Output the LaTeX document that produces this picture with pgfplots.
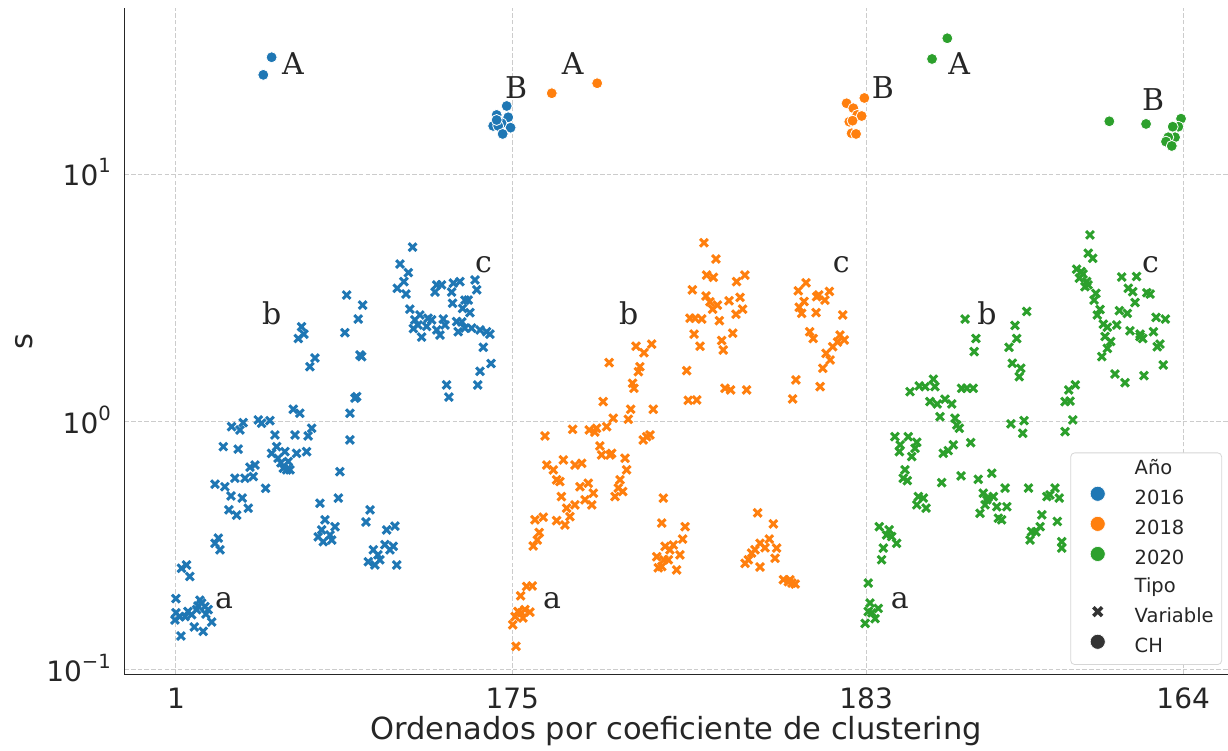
\documentclass[border=0pt]{standalone}
\usepackage{fontspec}
\setmainfont{DejaVu Sans}
\newfontfamily\annfont{DejaVu Serif}
\usepackage{pgfplots}
\pgfplotsset{compat=1.18}
\definecolor{c16}{HTML}{1F77B4}
\definecolor{c18}{HTML}{FF7F0E}
\definecolor{c20}{HTML}{2CA02C}
\definecolor{txt}{HTML}{262626}
\definecolor{gridc}{HTML}{CCCCCC}
\definecolor{dk}{HTML}{333333}
\newcommand{\sups}[1]{10\raisebox{13pt}{\fontsize{19.6}{20}\selectfont #1}}
\begin{document}
\begin{tikzpicture}
\begin{axis}[
  at={(124.3pt,76.7pt)}, anchor=south west,
  scale only axis, width=1103.7pt, height=666.3pt,
  ymode=log, xmin=-25.7, xmax=545.2, ymin=0.096, ymax=46.7,
  axis x line*=bottom, axis y line*=left,
  axis line style={draw=txt, line width=1.2pt, -},
  xtick={1,175,358,522}, xticklabels={1,175,183,164},
  ytick={0.1,1,10}, yticklabels={{\sups{−1}},{\sups{0}},{\sups{1}}},
  yminorticks=false, xminorticks=false,
  major tick length=0pt,
  tick label style={font=\fontsize{28}{32}\selectfont, text=txt},
  xticklabel style={anchor=north, inner sep=0pt, yshift=-13.7pt},
  yticklabel style={anchor=base east, inner sep=0pt, xshift=-13.3pt, yshift=-12pt},
  grid=major, major grid style={draw=gridc, line width=0.9pt, dash pattern=on 4.5pt off 2.2pt},
  xlabel={Ordenados por coeficiente de clustering}, ylabel={s},
  every axis x label/.style={at={(axis description cs:0.5,-0.0986)}, anchor=base, font=\fontsize{30.5}{36}\selectfont, text=txt},
  every axis y label/.style={at={(axis description cs:-0.0909,0.5)}, anchor=center, rotate=90, font=\fontsize{30.5}{36}\selectfont, text=txt},
  legend image code/.code={\path[use as bounding box, draw=none, fill=none] (-19pt,-4pt) rectangle (8pt,12pt); \draw[#1] plot coordinates {(0pt,6pt)};},
  legend cell align=left,
  legend style={at={(axis description cs:0.9946,0.014)}, anchor=south east,
    draw=black!16, line width=0.8pt, rounded corners=4pt, fill=white,
    font=\fontsize{19.5}{22}\selectfont, text=txt, inner xsep=8pt, inner ysep=7.3pt,
    row sep=8.6pt, nodes={inner sep=0pt, text height=14pt, text depth=5pt},
    /tikz/every odd column/.append style={column sep=29pt}},
]
% ---------- 2016 Variable ----------
\addplot[only marks, mark=x, mark size=5.5pt, c16, mark options={line width=3pt}, forget plot] table {
x y
1 0.194
1 0.170
3.1 0.164
5.7 0.164
9.1 0.167
11.7 0.175
14.3 0.186
16 0.180
17.7 0.175
19.5 0.156
15.1 0.143
10.5 0.149
3.6 0.137
0.5 0.159
13.4 0.191
7.2 0.172
12.4 0.181
16.5 0.168
6.5 0.265
3.9 0.257
8.2 0.238
21.2 0.324
23.8 0.305
22.9 0.340
21.2 0.561
26.3 0.548
29.5 0.503
31.5 0.593
35.3 0.493
28.4 0.442
32.4 0.421
38.4 0.449
25.5 0.795
33.2 0.777
36.7 0.593
39.3 0.657
41.9 0.670
41 0.602
47.4 0.540
29.8 0.957
34.1 0.928
35.8 0.994
43.6 1.019
45.3 0.988
49.6 1.012
52.2 0.886
53.1 0.795
50.5 0.747
53.8 0.714
57.4 0.759
59.1 0.692
56.5 0.651
58.3 0.641
63.4 0.747
62.6 0.886
68.6 0.759
69.4 0.878
71.2 0.943
61.7 1.125
65.1 1.084
55.3 0.684
60 0.641
85.8 0.630
85 0.493
75.5 0.470
78.1 0.403
76.4 0.367
80.7 0.350
83.3 0.378
81.6 0.334
74.6 0.344
77.2 0.329
91 0.846
101.4 0.442
99.3 0.395
110 0.367
114.3 0.380
109.1 0.320
113.4 0.315
103.1 0.305
100.5 0.273
106.5 0.278
115.2 0.265
105.5 0.291
111.7 0.305
103.9 0.265
91 1.084
93.6 1.247
94.5 1.265
97.1 1.834
96.2 1.862
88.4 2.29
95.3 2.60
97.6 2.96
89.3 3.25
66 2.42
67.2 2.26
64.3 2.17
72.9 1.81
70.3 1.67
123.4 5.07
116.9 4.33
121.2 4.00
118.9 3.68
115.5 3.46
120 3.28
122 2.85
127.2 2.70
124.6 2.58
123.8 2.38
128.1 2.20
130.7 2.43
133.3 2.58
135.9 2.35
137.6 2.24
140.2 2.46
139.3 2.60
146.2 2.54
147 2.31
150.5 2.39
154 2.39
158.3 2.35
163.4 2.26
161.7 2.31
135.9 3.57
138.4 3.57
135 3.34
143.6 3.34
144.5 3.63
147.9 3.68
144.1 3.01
149.3 2.87
150.5 3.10
152.2 3.10
153.1 2.76
155.7 3.74
156.6 3.41
160 2.00
158.3 1.60
157.1 1.41
164 1.72
141 1.41
142.2 1.26
126.2 2.46
131.4 2.62
148.9 2.53
};
% ---------- 2018 Variable ----------
\addplot[only marks, mark=x, mark size=5.5pt, c18, mark options={line width=3pt}, forget plot] table {
x y
176.9 0.1245
175.2 0.152
176.4 0.164
179.8 0.170
184.1 0.171
181.5 0.175
179.3 0.199
182.4 0.217
185.3 0.218
177.9 0.172
180.5 0.162
185.8 0.316
187.9 0.334
188.9 0.358
186.7 0.403
191 0.413
191.9 0.878
192.8 0.670
196.2 0.641
197.9 0.584
199.6 0.575
201.4 0.703
207.4 0.670
210.9 0.681
200.4 0.500
197.9 0.400
202.2 0.384
204.8 0.415
203.1 0.449
207.4 0.463
210 0.548
214.3 0.566
212.6 0.485
216.9 0.516
216.1 0.463
206.2 0.934
214.8 0.928
218.6 0.943
223.8 0.957
227.2 1.035
220.3 0.800
221.2 0.736
226.4 0.747
228.1 0.500
229.8 0.541
230.7 0.584
232.1 0.524
233.3 0.714
234.1 0.641
222 1.208
225.1 1.735
236.2 1.125
235 1.025
247.9 1.125
244.5 0.872
242.7 0.846
246.2 0.886
237.2 1.432
237.9 1.367
241 1.670
240.2 1.595
239 2.02
243.1 1.902
247.1 2.06
217.7 0.91
225.5 0.736
253.1 0.493
252.3 0.391
264.4 0.378
263.1 0.337
258.3 0.319
254 0.315
249.7 0.286
250.5 0.258
255.7 0.278
260 0.253
261.7 0.291
252.3 0.261
256.5 0.305
253.4 0.278
265.2 1.610
266 1.222
270.4 1.227
269 2.26
274.1 5.28
280.3 4.54
275.5 3.91
279 3.83
268.1 3.41
275.2 3.22
277.2 3.05
281.1 2.96
278.6 2.85
266.9 2.62
269.5 2.62
273 2.60
282.1 2.56
287.1 3.08
292.8 3.18
291 3.68
295.3 3.91
294.1 2.85
290.7 2.72
289 2.28
283.3 2.13
284.1 1.95
272.1 2.02
285 1.367
287.9 1.346
296.2 1.346
326.9 3.64
322.9 3.38
325.9 3.06
324.7 2.74
323.4 2.90
332.1 2.76
332.4 3.20
336.7 3.10
339 3.36
345.9 2.70
328.8 2.31
330.6 2.17
344.5 2.24
346.7 2.14
340.7 2.01
337.3 1.89
339.4 1.778
335.6 1.646
334.2 1.388
321.7 1.477
320 1.238
333.5 3.25
343.2 2.10
301.9 0.430
310 0.388
307.9 0.337
311.7 0.310
310.9 0.282
303.1 0.260
298.8 0.296
297.1 0.278
295.4 0.269
303.1 0.324
300.5 0.305
305.7 0.311
315.2 0.231
317.8 0.227
321.3 0.222
319.6 0.224
318.6 0.231
};
% ---------- 2020 Variable ----------
\addplot[only marks, mark=x, mark size=5.5pt, c20, mark options={line width=3pt}, forget plot] table {
x y
359.1 0.224
360 0.186
364.3 0.177
362.6 0.161
357.5 0.154
359.1 0.172
361 0.170
366 0.278
366.9 0.310
364.8 0.378
369.9 0.367
371.2 0.345
373.8 0.324
368.6 0.350
385 0.500
387.6 0.493
389 0.449
384.2 0.463
378.1 0.641
377.2 0.593
379.3 0.580
372.9 0.872
379.8 0.872
384.2 0.828
375.6 0.808
375.2 0.759
381.6 0.725
383.3 0.783
380.7 1.325
385.5 1.397
388.5 1.388
392.8 1.487
393.6 1.388
391 1.208
394.8 1.182
398.8 1.235
402.3 1.182
396.2 1.050
404 1.035
404.9 0.972
406.2 0.943
397.9 0.747
400.5 0.766
403.1 0.808
412.1 0.825
407.4 1.367
410 1.367
413.4 1.367
409.2 2.60
414.8 2.17
413.9 1.922
397.1 0.569
407.1 0.606
416 0.587
423 0.621
418.6 0.516
420.4 0.485
423.8 0.500
425.6 0.455
429.9 0.541
430.8 0.455
416.9 0.428
426.4 0.409
428.1 0.403
421.1 0.497
419.5 0.463
432.9 0.982
439.7 1.012
439 0.900
441.1 2.79
435 2.45
435.9 2.17
431.9 2.00
433.6 1.724
438 1.646
437.2 1.522
442 0.541
448.9 0.422
448 0.378
442.8 0.334
451.5 0.500
455.7 0.541
457.9 0.493
456.9 0.397
443.6 0.361
459.2 0.329
459.2 0.310
453.1 0.508
445.8 0.360
460.9 0.914
464.9 1.019
463.5 1.213
460.9 1.208
466.2 1.411
462.8 1.346
473.8 5.68
472.9 4.79
475.2 4.57
466.9 4.13
469.2 4.04
468.3 3.80
472.1 3.68
471.2 3.51
476.9 3.30
475.9 3.10
479 2.84
477.6 2.70
480.7 2.48
482.8 2.41
481.6 2.21
484.5 2.11
482.8 1.98
479.9 1.834
487.6 2.46
489 2.81
493.1 2.74
490.2 3.84
497.9 3.86
493.6 3.46
495.9 3.35
497.1 3.03
504.9 3.28
503.2 3.32
494.5 2.33
499.7 2.21
501.1 2.17
506.6 2.31
508 2.64
512.8 2.60
510 2.06
508.6 2.01
511.7 1.697
486.7 1.561
491.9 1.440
501.7 1.537
470.2 3.95
472.8 3.57
499.7 2.26
};
% ---------- CH ----------
\addplot[only marks, mark=*, mark size=5.5pt, mark options={draw=white, fill=c16, line width=0.8pt}, forget plot] table {
x y
50.5 29.56
46.2 25.1
172.1 18.8
166.9 17.3
172.9 16.93
165.1 15.62
169.5 16.01
167.7 15.62
174.1 15.37
170 14.50
166.9 16.51
};
\addplot[only marks, mark=*, mark size=5.5pt, mark options={draw=white, fill=c18, line width=0.8pt}, forget plot] table {
x y
195.4 21.16
218.9 23.22
357.1 20.25
347.9 19.28
351.4 18.41
353.4 17.3
355.7 17.13
349.3 16.25
351 16.4
350.5 14.59
352.8 14.50
};
\addplot[only marks, mark=*, mark size=5.5pt, mark options={draw=white, fill=c20, line width=0.8pt}, forget plot] table {
x y
400 35.26
392.1 29.09
483.8 16.31
502.8 15.91
520.9 16.71
519.5 15.51
516.6 15.51
517.8 14.06
514.3 14.06
513.1 13.5
516.1 12.97
};
% ---------- annotations ----------
\begin{scope}[every node/.style={font=\annfont\fontsize{30}{36}\selectfont, text=txt, anchor=base west, inner sep=0pt}]
\node at (axis cs:55.8,25.1) {A};
\node at (axis cs:200.5,25.1) {A};
\node at (axis cs:400.4,25.1) {A};
\node at (axis cs:171.2,20.06) {B};
\node at (axis cs:360.9,20.06) {B};
\node at (axis cs:500.6,17.99) {B};
\node at (axis cs:21.2,0.1774) {a};
\node at (axis cs:190.8,0.1774) {a};
\node at (axis cs:370.7,0.1774) {a};
\node at (axis cs:45.5,2.46) {b};
\node at (axis cs:230.2,2.46) {b};
\node at (axis cs:415.5,2.46) {b};
\node at (axis cs:155.7,3.99) {c};
\node at (axis cs:340.7,3.99) {c};
\node at (axis cs:500.6,3.99) {c};
\end{scope}
% ---------- legend ----------
\addlegendimage{empty legend}\addlegendentry{Año}
\addlegendimage{only marks, mark=*, mark size=7.5pt, mark options={draw=white, fill=c16, line width=0.6pt}}\addlegendentry{2016}
\addlegendimage{only marks, mark=*, mark size=7.5pt, mark options={draw=white, fill=c18, line width=0.6pt}}\addlegendentry{2018}
\addlegendimage{only marks, mark=*, mark size=7.5pt, mark options={draw=white, fill=c20, line width=0.6pt}}\addlegendentry{2020}
\addlegendimage{empty legend}\addlegendentry{Tipo}
\addlegendimage{only marks, mark=x, mark size=6.2pt, dk, mark options={line width=3.6pt}}\addlegendentry{Variable}
\addlegendimage{only marks, mark=*, mark size=7.5pt, mark options={draw=white, fill=dk, line width=0.6pt}}\addlegendentry{CH}
\end{axis}
\pgfresetboundingbox
\path[use as bounding box] (0,0) rectangle (1228pt,751pt);
\end{tikzpicture}
\end{document}
